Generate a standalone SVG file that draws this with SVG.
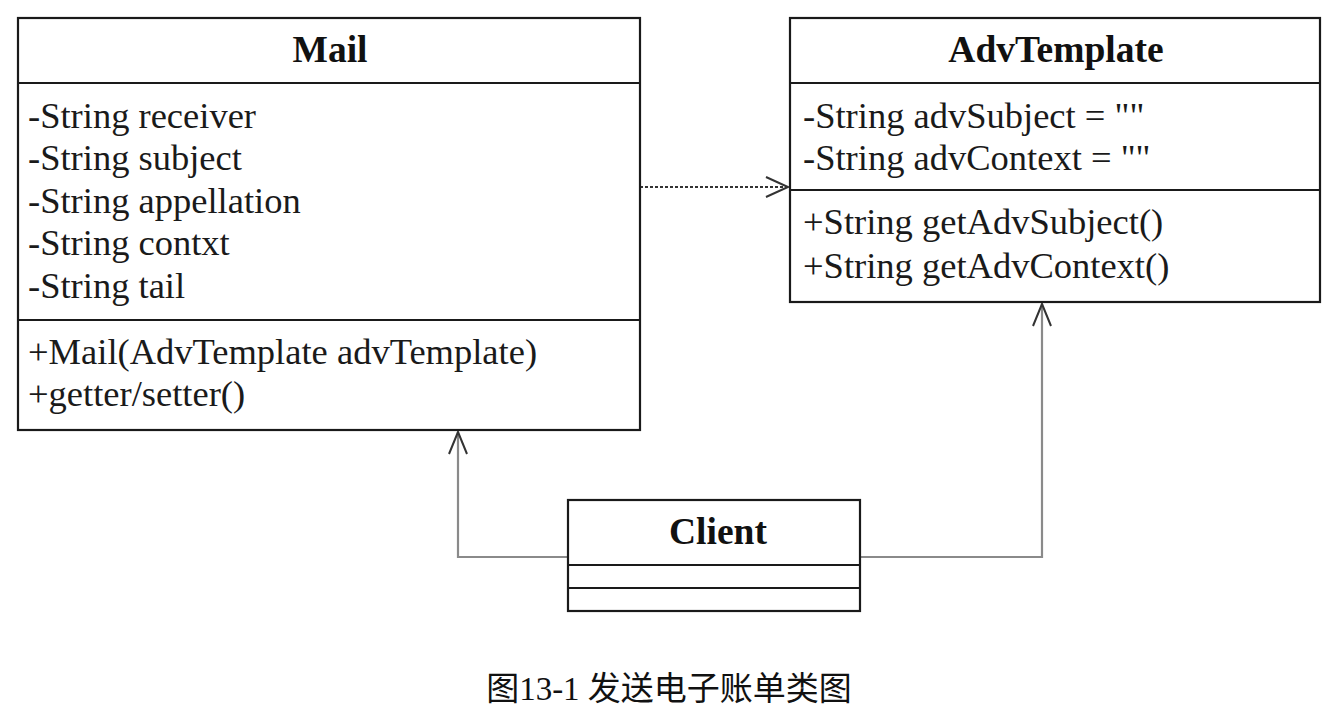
<svg xmlns="http://www.w3.org/2000/svg" width="1335" height="714" viewBox="0 0 1335 714">
<style>
.box{fill:#fff;stroke:#1a1a1a;stroke-width:2.2}
.sep{stroke:#1a1a1a;stroke-width:2.2}
.title{font-family:"Liberation Serif","Times New Roman",serif;font-weight:bold;font-size:37.5px;fill:#111;text-anchor:middle}
.txt{font-family:"Liberation Serif","Times New Roman",serif;font-size:36.5px;fill:#1a1a1a}
.cap{font-family:"Liberation Serif","Noto Sans CJK SC",serif;font-size:33px;fill:#111;text-anchor:middle}
.assoc{fill:none;stroke:#8a8a8a;stroke-width:2.2}
.dep{fill:none;stroke:#333;stroke-width:2;stroke-dasharray:3 2}
.head{fill:none;stroke:#333;stroke-width:2}
</style>
<rect width="1335" height="714" fill="#fff"/>
<g id="connectors">
  <line class="dep" x1="640" y1="187" x2="788" y2="187"/>
  <polyline class="head" points="766,177 788,187 766,197"/>
  <polyline class="assoc" points="568,557 458,557 458,432"/>
  <polyline class="head" points="449,454 458,432 467,454"/>
  <polyline class="assoc" points="860,557 1042,557 1042,304"/>
  <polyline class="head" points="1033,326 1042,304 1051,326"/>
</g>
<g id="mail">
  <rect class="box" x="18" y="18" width="622" height="412"/>
  <line class="sep" x1="18" y1="83" x2="640" y2="83"/>
  <line class="sep" x1="18" y1="320" x2="640" y2="320"/>
  <text class="title" x="330" y="62">Mail</text>
  <text class="txt" x="28" y="128">-String receiver</text>
  <text class="txt" x="28" y="170">-String subject</text>
  <text class="txt" x="28" y="213">-String appellation</text>
  <text class="txt" x="28" y="255">-String contxt</text>
  <text class="txt" x="28" y="298">-String tail</text>
  <text class="txt" x="28" y="364">+Mail(AdvTemplate advTemplate)</text>
  <text class="txt" x="28" y="406">+getter/setter()</text>
</g>
<g id="advtemplate">
  <rect class="box" x="790" y="18" width="530" height="284"/>
  <line class="sep" x1="790" y1="83" x2="1320" y2="83"/>
  <line class="sep" x1="790" y1="190" x2="1320" y2="190"/>
  <text class="title" x="1056" y="62">AdvTemplate</text>
  <text class="txt" x="803" y="128">-String advSubject = ""</text>
  <text class="txt" x="803" y="170">-String advContext = ""</text>
  <text class="txt" x="803" y="234">+String getAdvSubject()</text>
  <text class="txt" x="803" y="278">+String getAdvContext()</text>
</g>
<g id="client">
  <rect class="box" x="568" y="500" width="292" height="111"/>
  <line class="sep" x1="568" y1="565" x2="860" y2="565"/>
  <line class="sep" x1="568" y1="588" x2="860" y2="588"/>
  <text class="title" x="718" y="544">Client</text>
</g>
<text class="cap" x="669" y="700">图13-1 发送电子账单类图</text>
</svg>
